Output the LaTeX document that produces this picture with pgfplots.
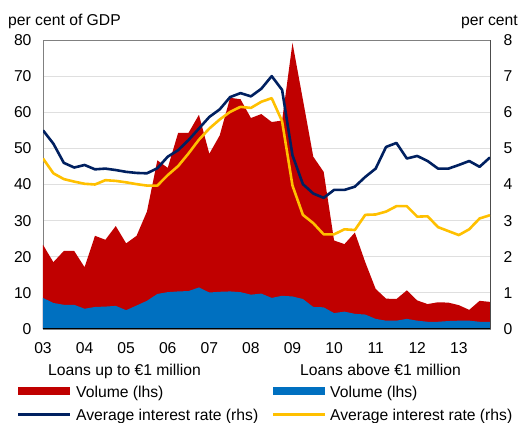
\documentclass[border=0pt]{standalone}
\usepackage{pgfplots}
\usepackage{pgfplotstable}
\pgfplotsset{compat=1.18}
\usepackage{fontspec}
\setmainfont{Liberation Sans}
\definecolor{cred}{HTML}{C00000}
\definecolor{cblue}{HTML}{0070C0}
\definecolor{cnavy}{HTML}{002060}
\definecolor{cyel}{HTML}{FFC000}

\pgfplotstableread{
x     red   blue  navy  yel
3.00  23.3  8.6   5.50  4.72
3.25  18.5  7.2   5.13  4.31
3.50  21.6  6.7   4.60  4.15
3.75  21.6  6.7   4.47  4.08
4.00  17.1  5.6   4.54  4.02
4.25  25.8  6.1   4.42  4.00
4.50  24.7  6.2   4.44  4.12
4.75  28.5  6.4   4.40  4.10
5.00  23.7  5.2   4.35  4.06
5.25  25.8  6.5   4.32  4.01
5.50  32.5  7.8   4.31  3.97
5.75  46.7  9.7   4.45  3.97
6.00  44.6  10.2  4.77  4.26
6.25  54.3  10.4  4.95  4.51
6.50  54.3  10.5  5.23  4.86
6.75  59.3  11.5  5.55  5.24
7.00  48.5  10.1  5.87  5.55
7.25  53.6  10.3  6.08  5.80
7.50  64.0  10.4  6.42  6.01
7.75  63.6  10.2  6.53  6.15
8.00  58.4  9.5   6.44  6.12
8.25  59.5  9.8   6.65  6.29
8.50  57.3  8.6   7.00  6.39
8.75  57.7  9.2   6.62  5.75
9.00  79.2  9.0   4.81  3.97
9.25  63.5  8.3   4.01  3.16
9.50  47.7  6.1   3.75  2.93
9.75  43.5  6.0   3.63  2.62
10.00 24.5  4.4   3.85  2.62
10.25 23.5  4.8   3.85  2.76
10.50 26.7  4.2   3.94  2.74
10.75 18.5  4.0   4.21  3.16
11.00 11.1  2.8   4.44  3.17
11.25 8.4   2.3   5.04  3.25
11.50 8.3   2.3   5.15  3.40
11.75 10.7  2.8   4.72  3.40
12.00 7.9   2.3   4.79  3.11
12.25 6.9   2.0   4.65  3.12
12.50 7.4   2.0   4.44  2.82
12.75 7.3   2.2   4.44  2.71
13.00 6.6   2.3   4.54  2.60
13.25 5.3   2.3   4.65  2.76
13.50 7.8   2.0   4.49  3.06
13.75 7.5   2.0   4.75  3.15
}\data

\begin{document}
\begin{tikzpicture}[font=\fontsize{15.7}{18}\selectfont]
\useasboundingbox (0,0) rectangle (520pt,423pt);
\begin{axis}[
  at={(43pt,94pt)}, anchor=south west,
  width=447pt, height=289pt, scale only axis,
  xmin=3, xmax=13.75, ymin=0, ymax=80,
  xtick={3,...,13},
  xticklabels={03,04,05,06,07,08,09,10,11,12,13},
  ytick={0,10,...,80},
  ytick pos=left, xtick pos=bottom,
  major tick length=0pt,
  ymajorgrids, grid style={gray!25, line width=0.9pt},
  axis line style={gray, line width=0.8pt},
  tick label style={font=\fontsize{15.7}{18}\selectfont},
  xticklabel style={yshift=-10.5pt},
  yticklabel style={xshift=-8pt},
  /pgf/number format/assume math mode=true,
]
\addplot[fill=cred, draw=none] table[x=x,y=red]{\data} \closedcycle;
\addplot[fill=cblue, draw=none] table[x=x,y=blue]{\data} \closedcycle;
\draw[black, line width=1.6pt] (rel axis cs:0,0) -- (rel axis cs:1,0);
\end{axis}
\begin{axis}[
  at={(43pt,94pt)}, anchor=south west,
  width=447pt, height=289pt, scale only axis,
  xmin=3, xmax=13.75, ymin=0, ymax=8,
  axis x line=none, axis y line*=right,
  y axis line style={gray!60!black, line width=0.8pt},
  ytick={0,...,8},
  major tick length=0pt,
  tick label style={font=\fontsize{15.7}{18}\selectfont},
  yticklabel style={xshift=10pt},
  /pgf/number format/assume math mode=true,
]
\addplot[cnavy, line width=2.6pt, no markers, line join=round] table[x=x,y=navy]{\data};
\addplot[cyel, line width=2.6pt, no markers, line join=round] table[x=x,y=yel]{\data};
\end{axis}
% axis titles
\node[anchor=base west, inner sep=0] at (8pt,397.5pt) {per cent of GDP};
\node[anchor=base east, inner sep=0] at (518pt,397.5pt) {per cent};
% legend
\node[anchor=base west, inner sep=0] at (48pt,47pt) {Loans up to €1 million};
\node[anchor=base west, inner sep=0] at (300pt,47pt) {Loans above €1 million};
\draw[cred, line width=8pt] (18pt,31.7pt) -- (70pt,31.7pt);
\node[anchor=base west, inner sep=0] at (76pt,25.3pt) {Volume (lhs)};
\draw[cblue, line width=8pt] (273pt,31.7pt) -- (325pt,31.7pt);
\node[anchor=base west, inner sep=0] at (330pt,25.3pt) {Volume (lhs)};
\draw[cnavy, line width=2.6pt] (18pt,8.7pt) -- (70pt,8.7pt);
\node[anchor=base west, inner sep=0] at (76pt,2.5pt) {Average interest rate (rhs)};
\draw[cyel, line width=2.6pt] (273pt,8.7pt) -- (325pt,8.7pt);
\node[anchor=base west, inner sep=0] at (330pt,2.5pt) {Average interest rate (rhs)};
\end{tikzpicture}
\end{document}
